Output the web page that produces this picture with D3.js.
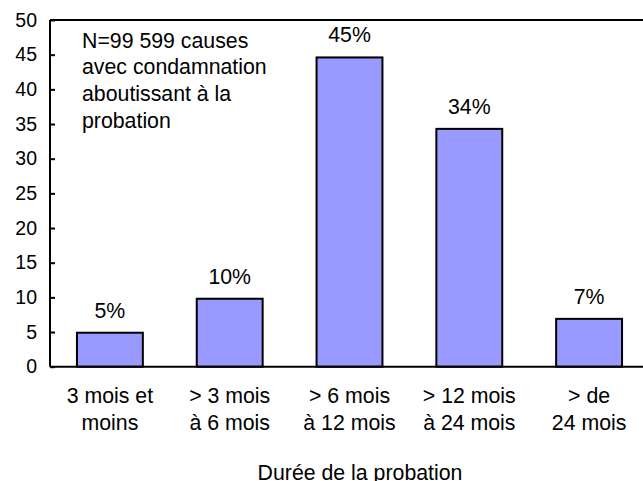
<!DOCTYPE html>
<html>
<head>
<meta charset="utf-8">
<script src="https://d3js.org/d3.v7.min.js"></script>
<style>
  body { margin: 0; background: #fff; }
  svg { display: block; font-family: "Liberation Sans", Arial, sans-serif; }
</style>
</head>
<body>
<svg width="643" height="481"></svg>
<script>
// data
var categories = [["3 mois et", "moins"], ["> 3 mois", "à 6 mois"], ["> 6 mois", "à 12 mois"], ["> 12 mois", "à 24 mois"], ["> de", "24 mois"]];
var values = [4.9, 9.8, 44.6, 34.3, 6.9];
var valueLabels = ["5%", "10%", "45%", "34%", "7%"];
var yTicks = [0, 5, 10, 15, 20, 25, 30, 35, 40, 45, 50];
var note = ["N=99 599 causes", "avec condamnation", "aboutissant à la", "probation"];
var xTitle = "Durée de la probation";

var svg = d3.select("svg");
var plotLeft = 50, plotRight = 649, plotTop = 20, plotBottom = 366.7;
var fs = "21.3px";

var x = d3.scaleBand().domain(d3.range(values.length)).range([plotLeft, plotRight]).paddingInner(0.45).paddingOuter(0.225);
var y = d3.scaleLinear().domain([0, 50]).range([plotBottom, plotTop]);

// bars
svg.append("g").selectAll("rect").data(values).enter().append("rect")
  .attr("x", function(d, i) { return x(i); })
  .attr("y", function(d) { return y(d); })
  .attr("width", x.bandwidth())
  .attr("height", function(d) { return y(0) - y(d); })
  .attr("fill", "#9999ff")
  .attr("stroke", "#000")
  .attr("stroke-width", 2);

// value labels
svg.append("g").selectAll("text").data(values).enter().append("text")
  .attr("x", function(d, i) { return x(i) + x.bandwidth() / 2; })
  .attr("y", function(d) { return y(d) - 15; })
  .attr("text-anchor", "middle")
  .style("font-size", fs)
  .text(function(d, i) { return valueLabels[i]; });

// y axis with inward ticks
var yAxis = svg.append("g")
  .attr("transform", "translate(" + plotLeft + ",0)")
  .call(d3.axisLeft(y).tickValues(yTicks).tickSizeInner(-5).tickSizeOuter(0).tickPadding(13));
yAxis.select(".domain").remove();
yAxis.selectAll("line").attr("stroke", "#000").attr("stroke-width", 2);
yAxis.selectAll("text").style("font-size", "19.5px").attr("fill", "#000").style("font-family", "Liberation Sans, Arial, sans-serif");

// frame
svg.append("line").attr("x1", plotLeft).attr("x2", plotLeft).attr("y1", plotTop).attr("y2", plotBottom).attr("stroke", "#000").attr("stroke-width", 2);
svg.append("line").attr("x1", plotLeft).attr("x2", plotRight).attr("y1", plotTop).attr("y2", plotTop).attr("stroke", "#000").attr("stroke-width", 2);
svg.append("line").attr("x1", plotLeft).attr("x2", plotRight).attr("y1", plotBottom).attr("y2", plotBottom).attr("stroke", "#000").attr("stroke-width", 2);
svg.append("line").attr("x1", plotRight).attr("x2", plotRight).attr("y1", plotTop).attr("y2", plotBottom).attr("stroke", "#000").attr("stroke-width", 2);

// category labels
var cat = svg.append("g").selectAll("text").data(categories).enter().append("text")
  .attr("text-anchor", "middle")
  .style("font-size", fs);
cat.selectAll("tspan").data(function(d, i) { return d.map(function(t) { return { t: t, i: i }; }); })
  .enter().append("tspan")
  .attr("x", function(d) { return x(d.i) + x.bandwidth() / 2; })
  .attr("y", function(d, j) { return 403 + j * 26.5; })
  .text(function(d) { return d.t; });

// axis title
svg.append("text")
  .attr("x", 360)
  .attr("y", 480)
  .attr("text-anchor", "middle")
  .style("font-size", fs)
  .text(xTitle);

// note
svg.append("g").selectAll("text").data(note).enter().append("text")
  .attr("x", 82)
  .attr("y", function(d, i) { return 47.5 + i * 26.9; })
  .style("font-size", fs)
  .text(function(d) { return d; });
</script>
</body>
</html>
